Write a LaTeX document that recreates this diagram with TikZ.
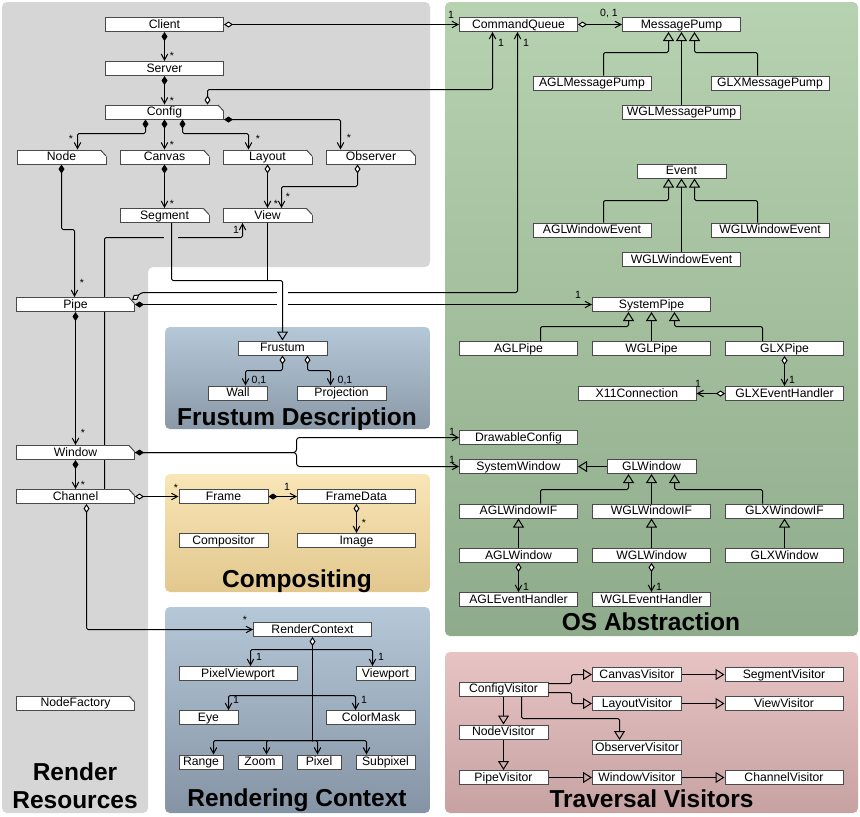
\documentclass[tikz,border=0pt]{standalone}
\usepackage{fontspec}
\setmainfont{Liberation Sans}
\usetikzlibrary{arrows.meta,calc}
\definecolor{boxline}{HTML}{4A4A4A}
\definecolor{rrgray}{HTML}{D6D6D6}
\definecolor{osTop}{HTML}{B7D2B0}
\definecolor{osBot}{HTML}{8EAB8B}
\definecolor{frTop}{HTML}{B5C8D8}
\definecolor{frBot}{HTML}{8A99A8}
\definecolor{coTop}{HTML}{F9E5B6}
\definecolor{coBot}{HTML}{E2C88E}
\definecolor{rcTop}{HTML}{B5C8D8}
\definecolor{rcBot}{HTML}{8594A5}
\definecolor{tvTop}{HTML}{E8C3C3}
\definecolor{tvBot}{HTML}{C6A2A2}
\pgfdeclarelayer{panels}
\pgfdeclarelayer{wires}
\pgfsetlayers{panels,wires,main}
\tikzset{
cls/.style={rectangle, draw=boxline, fill=white, line width=1pt, inner sep=0pt, minimum height=14pt, text height=9pt, text depth=2pt, font=\fontsize{12.2}{14}\selectfont},
wide/.style={cls, minimum width=118pt},
mid/.style={cls, minimum width=89pt},
narrow/.style={cls, minimum width=59pt},
tiny/.style={cls, minimum width=44pt},
mult/.style={inner sep=0pt, font=\fontsize{10.5}{11}\selectfont},
title/.style={anchor=base, inner sep=0pt, font=\bfseries\fontsize{24.5}{26}\selectfont},
panel/.style={rounded corners=5pt},
conn/.style={draw, line width=1pt, rounded corners=1.5pt},
assoc/.style={conn, -{Straight Barb[length=6pt,width=6.5pt]}},
comp/.style={conn, {Diamond[length=9pt,width=6pt]}-{Straight Barb[length=6pt,width=6.5pt]}},
aggr/.style={conn, {Diamond[fill=white,length=9pt,width=6pt]}-{Straight Barb[length=6pt,width=6.5pt]}},
aggrs/.style={conn, {Diamond[fill=white,length=9pt,width=6pt]}-},
gen/.style={conn, -{Triangle[open,length=9pt,width=11pt]}}
}

\begin{document}
\begin{tikzpicture}[x=1pt, y=-1pt]
\useasboundingbox (0,0) rectangle (860,817);

% panels
\begin{pgfonlayer}{panels}
\fill[rrgray, panel] (2,2) -- (430,2) -- (430,267) -- (148,267) -- (148,813) -- (2,813) -- cycle;
\shade[panel, top color=osTop, bottom color=osBot] (445,2) rectangle (858,636);
\shade[panel, top color=frTop, bottom color=frBot] (165,327) rectangle (430,429);
\shade[panel, top color=coTop, bottom color=coBot] (165,474) rectangle (430,592);
\shade[panel, top color=rcTop, bottom color=rcBot] (165,607) rectangle (430,813);
\shade[panel, top color=tvTop, bottom color=tvBot] (445,652) rectangle (858,813);
\end{pgfonlayer}

\node[title] (t-rr1) at (75,780) {Render};
\node[title] (t-rr2) at (75,808) {Resources};
\node[title] (t-fd) at (297,425) {Frustum Description};
\node[title] (t-co) at (297,587) {Compositing};
\node[title] (t-rc) at (297,806) {Rendering Context};
\node[title] (t-os) at (651,630) {OS Abstraction};
\node[title] (t-tv) at (651.5,807) {Traversal Visitors};

% render resources
\node[wide] (client) at (164.5,24.5) {Client};
\node[wide] (server) at (164.5,68.5) {Server};
\node[wide] (config) at (164.5,112) {Config};
\node[mid] (rnode) at (61.5,157) {Node};
\node[mid] (canvas) at (164.5,157) {Canvas};
\node[mid] (layout) at (267.5,157) {Layout};
\node[mid] (observer) at (371,157) {Observer};
\node[mid] (segment) at (164.5,215.5) {Segment};
\node[mid] (view) at (267.5,215.5) {View};
\node[wide] (pipe) at (75.5,304.5) {Pipe};
\node[wide] (window) at (75.5,452.5) {Window};
\node[wide] (channel) at (75.5,496.5) {Channel};
\node[wide] (nodefactory) at (75.5,703) {NodeFactory};

% frustum
\node[mid] (frustum) at (282.5,348) {Frustum};
\node[narrow] (wall) at (238,393) {Wall};
\node[mid] (projection) at (341.5,393) {Projection};

% compositing
\node[mid] (frame) at (223.5,496.5) {Frame};
\node[wide] (framedata) at (356.5,496.5) {FrameData};
\node[mid] (compositor) at (223.5,540.5) {Compositor};
\node[wide] (image) at (356.5,540.5) {Image};

% rendering context
\node[wide] (rc) at (312.5,629.5) {RenderContext};
\node[wide] (pixvp) at (238,673.5) {PixelViewport};
\node[narrow] (viewport) at (385.5,673.5) {Viewport};
\node[narrow] (eye) at (208.5,717.5) {Eye};
\node[mid] (colormask) at (371,717.5) {ColorMask};
\node[tiny] (range) at (201,762) {Range};
\node[tiny] (zoom) at (260,762) {Zoom};
\node[tiny] (pixel) at (319,762) {Pixel};
\node[narrow] (subpixel) at (385.5,762) {Subpixel};

% os abstraction
\node[wide] (cq) at (518.5,24.5) {CommandQueue};
\node[wide] (msgpump) at (681.5,24.5) {MessagePump};
\node[wide] (aglmp) at (592,83) {AGLMessagePump};
\node[wide] (glxmp) at (770,83) {GLXMessagePump};
\node[wide] (wglmp) at (681.5,112) {WGLMessagePump};
\node[mid] (event) at (681.5,171) {Event};
\node[wide] (aglwe) at (592,230) {AGLWindowEvent};
\node[wide] (wglwe) at (770,230) {WGLWindowEvent};
\node[wide] (wglwe2) at (681.5,259.5) {WGLWindowEvent};
\node[wide] (syspipe) at (651.5,304.5) {SystemPipe};
\node[wide] (aglpipe) at (518.5,348.5) {AGLPipe};
\node[wide] (wglpipe) at (651.5,348.5) {WGLPipe};
\node[wide] (glxpipe) at (784.5,348.5) {GLXPipe};
\node[wide] (x11) at (637,393.5) {X11Connection};
\node[wide] (glxeh) at (784.5,393.5) {GLXEventHandler};
\node[wide] (drawcfg) at (518.5,437.5) {DrawableConfig};
\node[wide] (syswin) at (518.5,466.5) {SystemWindow};
\node[mid] (glwin) at (651.5,466.5) {GLWindow};
\node[wide] (aglwinif) at (518.5,511) {AGLWindowIF};
\node[wide] (wglwinif) at (651.5,511) {WGLWindowIF};
\node[wide] (glxwinif) at (784.5,511) {GLXWindowIF};
\node[wide] (aglwin) at (518.5,555.5) {AGLWindow};
\node[wide] (wglwin) at (651.5,555.5) {WGLWindow};
\node[wide] (glxwin) at (784.5,555.5) {GLXWindow};
\node[wide] (agleh) at (518.5,599.5) {AGLEventHandler};
\node[wide] (wgleh) at (651.5,599.5) {WGLEventHandler};

% traversal visitors
\node[mid] (cfgvis) at (503.5,689) {ConfigVisitor};
\node[mid] (canvis) at (637,674.5) {CanvasVisitor};
\node[wide] (segvis) at (784,674.5) {SegmentVisitor};
\node[mid] (layvis) at (637,703.5) {LayoutVisitor};
\node[wide] (viewvis) at (784,703.5) {ViewVisitor};
\node[mid] (nodevis) at (503.5,732) {NodeVisitor};
\node[mid] (obsvis) at (637,747.5) {ObserverVisitor};
\node[mid] (pipevis) at (503.5,777.5) {PipeVisitor};
\node[mid] (winvis) at (637,777.5) {WindowVisitor};
\node[wide] (chanvis) at (784,777.5) {ChannelVisitor};

% cut corners of the resource entities
\foreach \n in {config,rnode,canvas,layout,observer,segment,view,pipe,window,channel,nodefactory}{
  \fill[rrgray] ([xshift=-6.5pt,yshift=0.6pt]\n.north east) -- ([xshift=0.6pt,yshift=0.6pt]\n.north east) -- ([xshift=0.6pt,yshift=-7.5pt]\n.north east) -- cycle;
  \draw[boxline, line width=1pt] ([xshift=-6pt,yshift=-0.5pt]\n.north east) -- ([xshift=-0.5pt,yshift=-6.5pt]\n.north east);
}

% resource tree
\draw[aggr] (client.east) -- (cq.west);
\draw[comp] (client.south) -- (server.north);
\draw[comp] (server.south) -- (config.north);
\draw[aggr] (207.5,0 |- config.north) |- (492.5,89.5) -- (492.5,0 |- cq.south);
\draw[comp] (145.5,0 |- config.south) |- (77.5,133.5) -- (77.5,0 |- rnode.north);
\draw[comp] (config.south) -- (canvas.north);
\draw[comp] (182.5,0 |- config.south) |- (248.5,133.5) -- (248.5,0 |- layout.north);
\draw[comp] (config.south east) -| (340.5,0 |- observer.north);
\draw[comp] (rnode.south) |- (74.5,229.5) -- (74.5,0 |- pipe.north);
\draw[comp] (canvas.south) -- (segment.north);
\draw[aggr] (layout.south) -- (view.north);
\draw[aggr] (357.5,0 |- observer.south) |- (281.5,186.5) -- (281.5,0 |- view.north);

\begin{pgfonlayer}{wires}
\draw[assoc] (104.5,0 |- channel.north) |- (242.5,237.5) -- (242.5,0 |- view.south);
\end{pgfonlayer}
\fill[rrgray] (164,232) rectangle (178,243);

\draw[aggr] ($(pipe.north east)+(-3,3)$) -- (142,292.5) -| (517.5,0 |- cq.south);
\draw[comp] (pipe.east) -- (syspipe.west);
\fill[white] (277,287) rectangle (288,308);

\coordinate (frjoin) at (282.5,280.5);
\draw[conn] (view.south) -- (view.south |- frjoin);
\draw[gen] (171.5,0 |- segment.south) |- (frjoin) -- (frustum.north);

\draw[comp] (pipe.south) -- (window.north);
\draw[comp] (window.south) -- (channel.north);
\draw[comp, rounded corners=3pt] (window.east) -- (296.5,452.5) |- (drawcfg.west);
\draw[assoc, rounded corners=3pt] (window.east) -- (296.5,452.5) |- (syswin.west);
\draw[aggr] (channel.east) -- (frame.west);
\draw[aggr] (86.5,0 |- channel.south) |- (rc.west);

% frustum
\draw[aggr] (frustum.south) |- (245.5,370.5) -- (245.5,0 |- wall.north);
\draw[aggr] (307.5,0 |- frustum.south) |- (330.5,370.5) -- (330.5,0 |- projection.north);

% compositing
\draw[comp] (frame.east) -- (framedata.west);
\draw[aggr] (framedata.south) -- (image.north);

% render context
\coordinate (rcA) at (312.5,649.5);
\coordinate (rcB) at (312.5,695.5);
\coordinate (rcC) at (312.5,740.5);
\draw[aggrs] (rc.south) -- (rcC);
\draw[assoc] (rcA) -| (250.5,0 |- pixvp.north);
\draw[assoc] (rcA) -| (372.5,0 |- viewport.north);
\draw[assoc] (rcB) -| (228.5,0 |- eye.north);
\draw[assoc] (rcB) -| (355.5,0 |- colormask.north);
\foreach \n/\x in {range/213.5,zoom/266.5,pixel/317.5,subpixel/366.5}
  \draw[assoc] (rcC) -| (\x,0 |- \n.north);
\foreach \c in {rcA,rcB,rcC}
  \fill (\c) circle (1.2pt);

% os abstraction
\draw[aggr] (cq.east) -- (msgpump.west);
\draw[gen] (603.5,0 |- aglmp.north) |- (668.5,52.5) -- (668.5,0 |- msgpump.south);
\draw[gen] (wglmp.north) -- (msgpump.south);
\draw[gen] (757.5,0 |- glxmp.north) |- (694.5,52.5) -- (694.5,0 |- msgpump.south);
\draw[gen] (603.5,0 |- aglwe.north) |- (668.5,200.5) -- (668.5,0 |- event.south);
\draw[gen] (wglwe2.north) -- (event.south);
\draw[gen] (757.5,0 |- wglwe.north) |- (694.5,200.5) -- (694.5,0 |- event.south);
\draw[gen] (540.5,0 |- aglpipe.north) |- (628.5,326.5) -- (628.5,0 |- syspipe.south);
\draw[gen] (wglpipe.north) -- (syspipe.south);
\draw[gen] (762.5,0 |- glxpipe.north) |- (674.5,326.5) -- (674.5,0 |- syspipe.south);
\draw[aggr] (glxpipe.south) -- (glxeh.north);
\draw[aggr] (glxeh.west) -- (x11.east);
\draw[gen] (glwin.west) -- (syswin.east);
\draw[gen] (540.5,0 |- aglwinif.north) |- (628.5,489.5) -- (628.5,0 |- glwin.south);
\draw[gen] (wglwinif.north) -- (glwin.south);
\draw[gen] (762.5,0 |- glxwinif.north) |- (674.5,489.5) -- (674.5,0 |- glwin.south);
\foreach \p in {agl,wgl,glx}
  \draw[gen] (\p win.north) -- (\p winif.south);
\foreach \p in {agl,wgl}
  \draw[aggr] (\p win.south) -- (\p eh.north);

% visitors
\draw[gen] (cfgvis.east |- 0,683.5) -- (571.5,683.5) |- (canvis.west);
\draw[gen] (cfgvis.east |- 0,692.5) -- (571.5,692.5) |- (layvis.west);
\draw[gen] (canvis.east) -- (segvis.west);
\draw[gen] (layvis.east) -- (viewvis.west);
\draw[gen] (cfgvis.south) -- (nodevis.north);
\draw[gen] (521.5,0 |- cfgvis.south) |- (619.5,718.5) -- (619.5,0 |- obsvis.north);
\draw[gen] (nodevis.south) -- (pipevis.north);
\draw[gen] (pipevis.east) -- (winvis.west);
\draw[gen] (winvis.east) -- (chanvis.west);

% multiplicities
\foreach \x/\y/\t [count=\i] in {172/56/*, 172/101/*, 71/139/*, 172/145/*, 258/139/*, 349/138/*,
  172/204/*, 276/204/*, 288/197/*, 82/283/*, 83/433/*, 83/485/*, 176/488/*, 364/523/*, 245/620/*,
  236/230/1, 287/487/1, 259/657/1, 381/657/1, 236/700/1, 364/700/1, 451/15/1, 501/43/1, 526/43/1,
  578/295/1, 792/380/1, 698/384/1, 452/432/1, 452/460/1, 526/587/1, 659/587/1,
  609/14/{0, 1}, 259/381/{0,1}, 345/381/{0,1}}
  \node[mult] (lbl\i) at (\x,\y) {\t};
\end{tikzpicture}
\end{document}
